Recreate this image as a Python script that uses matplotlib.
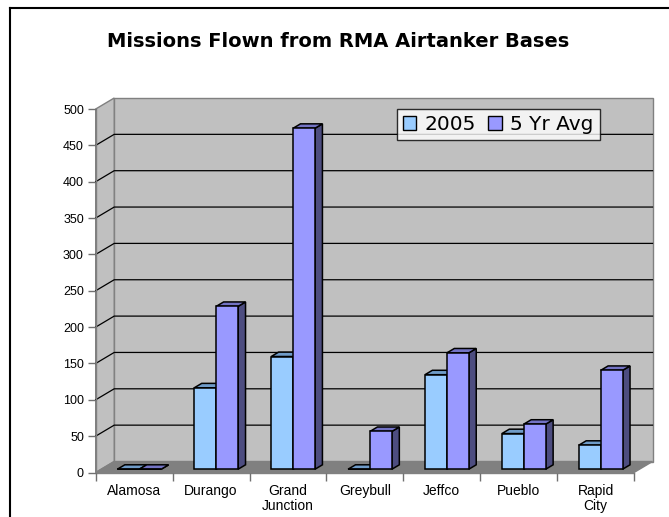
import matplotlib
matplotlib.use("Agg")
import matplotlib.pyplot as plt
from matplotlib.patches import Polygon, Patch
from matplotlib.lines import Line2D

categories = ["Alamosa", "Durango", "Grand\nJunction", "Greybull", "Jeffco", "Pueblo", "Rapid\nCity"]
series_names = ["2005", "5 Yr Avg"]
vals_2005 = [0, 112, 155, 0, 130, 49, 33]
vals_5yr = [0, 224, 469, 52, 160, 62, 136]
yticks = list(range(0, 501, 50))
title = "Missions Flown from RMA Airtanker Bases"

front_colors = ["#99CCFF", "#9999FF"]
top_colors = ["#6F9BC8", "#7373C4"]
side_colors = ["#4D6680", "#4D4D80"]

W, H = 669, 517
fig = plt.figure(figsize=(W / 100, H / 100), dpi=100)
fig.patch.set_facecolor("white")

# chart area border (left and top visible)
fig.add_artist(Line2D([10 / W, 10 / W], [0, 1 - 8 / H], color="black", lw=1.5, transform=fig.transFigure))
fig.add_artist(Line2D([10 / W, 1], [1 - 8 / H, 1 - 8 / H], color="black", lw=1.5, transform=fig.transFigure))

x_left, x_right = 95.7, 634.0
y_zero, y_top = 472.5, 109.0
ax = fig.add_axes([x_left / W, (H - y_zero) / H, (x_right - x_left) / W, (y_zero - y_top) / H])
ncat = len(categories)
ax.set_xlim(0, ncat)
ax.set_ylim(0, 500)
ax.patch.set_visible(False)

DX = 18.5 / ((x_right - x_left) / ncat)
DY = 11.0 / ((y_zero - y_top) / 500)


def P(x, v, d):
    return (x + d * DX, v + d * DY)


# walls and floor
ax.add_patch(Polygon([P(0, 0, 1), P(ncat, 0, 1), P(ncat, 500, 1), P(0, 500, 1)], closed=True,
                     facecolor="#C0C0C0", edgecolor="#808080", lw=1.0, clip_on=False, zorder=0))
ax.add_patch(Polygon([P(0, 0, 0), P(0, 0, 1), P(0, 500, 1), P(0, 500, 0)], closed=True,
                     facecolor="#C0C0C0", edgecolor="#808080", lw=1.0, clip_on=False, zorder=0))
ax.add_patch(Polygon([P(0, 0, 0), P(ncat, 0, 0), P(ncat, 0, 1), P(0, 0, 1)], closed=True,
                     facecolor="#808080", edgecolor="#808080", lw=1.0, clip_on=False, zorder=0.5))
for v in yticks[1:-1]:
    pts = [P(0, v, 0), P(0, v, 1), P(ncat, v, 1)]
    ax.plot([p[0] for p in pts], [p[1] for p in pts], color="black", lw=0.9, zorder=0.6, clip_on=False)

# bars
w = 0.285
start = 0.21
d0, d1 = 0.3, 0.7
for i in range(ncat):
    for s, vals in enumerate([vals_2005, vals_5yr]):
        v = vals[i]
        x0 = i + start + s * w
        x1 = x0 + w
        z = 2 + i * 2 + s
        ax.add_patch(Polygon([P(x1, 0, d0), P(x1, v, d0), P(x1, v, d1), P(x1, 0, d1)], closed=True,
                             facecolor=side_colors[s], edgecolor="black", lw=1.1, zorder=z, clip_on=False,
                             joinstyle="miter"))
        ax.add_patch(Polygon([P(x0, v, d0), P(x1, v, d0), P(x1, v, d1), P(x0, v, d1)], closed=True,
                             facecolor=top_colors[s], edgecolor="black", lw=1.1, zorder=z, clip_on=False,
                             joinstyle="miter"))
        ax.add_patch(Polygon([P(x0, 0, d0), P(x1, 0, d0), P(x1, v, d0), P(x0, v, d0)], closed=True,
                             facecolor=front_colors[s], edgecolor="black", lw=1.1, zorder=z, clip_on=False,
                             joinstyle="miter"))

# axes lines / ticks
for sp in ["top", "right"]:
    ax.spines[sp].set_visible(False)
for sp in ["left", "bottom"]:
    ax.spines[sp].set_color("#808080")
    ax.spines[sp].set_linewidth(1.0)
    ax.spines[sp].set_zorder(1)
ax.set_yticks(yticks)
ax.set_yticklabels([str(t) for t in yticks], fontfamily="Liberation Sans", fontsize=9)
ax.tick_params(axis="y", direction="out", length=6, width=1.0, color="#707070", pad=2.5)
ax.set_xticks(range(ncat + 1))
ax.set_xticklabels([])
ax.set_xticks([i + 0.5 for i in range(ncat)], minor=True)
ax.set_xticklabels(categories, minor=True, fontfamily="Liberation Sans", fontsize=10, linespacing=1.1)
ax.tick_params(axis="x", which="major", direction="out", length=5.5, width=1.0, color="#707070")
ax.tick_params(axis="x", which="minor", length=0, pad=8.5)

# title
fig.text(338 / W, 1 - 47.3 / H, title, ha="center", va="baseline", fontsize=14,
         fontweight="bold", fontfamily="DejaVu Sans")

# legend
handles = [Patch(facecolor=front_colors[k], edgecolor="black", lw=1.0) for k in range(2)]
leg = fig.legend(handles, series_names, loc="upper left", bbox_to_anchor=(396.7 / W, 1 - 109 / H),
                 ncol=2, frameon=True, fancybox=False, handlelength=0.68,
                 handleheight=0.68, handletextpad=0.4, columnspacing=0.62, borderpad=0.3,
                 borderaxespad=0, prop={"family": "DejaVu Sans", "size": 14.5})
leg.get_frame().set_edgecolor("black")
leg.get_frame().set_linewidth(1.0)
leg.set_zorder(50)

fig.savefig("out.png", dpi=100)
